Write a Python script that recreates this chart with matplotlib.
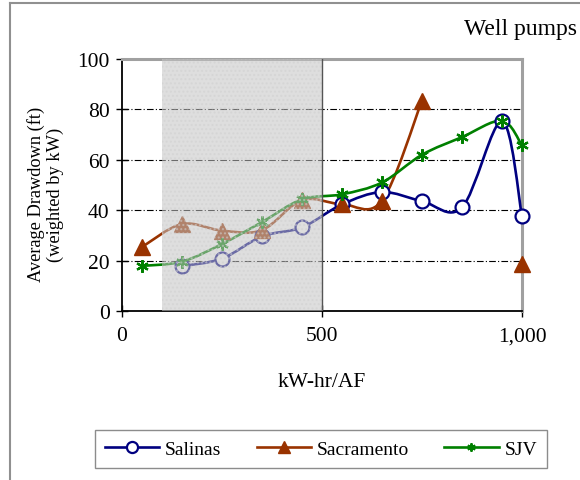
import numpy as np
import matplotlib as mpl
mpl.use('Agg')
import matplotlib.pyplot as plt
from matplotlib.path import Path
from matplotlib.patches import PathPatch
from matplotlib.lines import Line2D

plt.rcParams['font.family'] = ['Liberation Serif', 'DejaVu Serif']

# kW-hr per acre-foot bins
salinas_x = [150, 250, 350, 450, 550, 650, 750, 850, 950, 1000]
salinas_y = [17.8, 20.8, 29.6, 33.2, 42.3, 47.2, 43.6, 41.1, 75.3, 37.6]

sacramento_x = [50, 150, 250, 350, 450, 550, 650, 750]
sacramento_y = [25.4, 34.5, 31.9, 32.1, 44.0, 42.4, 43.8, 83.5]
sacramento_last_x = [1000]
sacramento_last_y = [18.6]

sjv_x = [50, 150, 250, 350, 450, 550, 650, 750, 850, 950, 1000]
sjv_y = [17.9, 19.6, 26.6, 35.3, 44.3, 46.3, 51.0, 62.0, 69.0, 75.5, 65.7]

xticks = [0, 500, 1000]
xticklabels = ['0', '500', '1,000']
yticks = [0, 20, 40, 60, 80, 100]

navy = '#000080'
brown = '#993300'
green = '#008000'
asterisk = (6, 2, 0)


def smooth_path(xs, ys):
    # Bezier curve through the points, like a spreadsheet "smoothed line"
    p = np.column_stack([xs, ys]).astype(float)
    n = len(p)
    verts = [p[0]]
    codes = [Path.MOVETO]
    for i in range(n - 1):
        prev = p[i - 1] if i > 0 else p[i]
        nxt = p[i + 2] if i + 2 < n else p[i + 1]
        c1 = p[i] + (p[i + 1] - prev) / 6.0
        c2 = p[i + 1] - (nxt - p[i]) / 6.0
        verts += [c1, c2, p[i + 1]]
        codes += [Path.CURVE4] * 3
    return Path(verts, codes)


fig = plt.figure(figsize=(5.8, 4.81), dpi=100)
ax = fig.add_axes([122 / 580, 1 - 312 / 481, 400 / 580, 252 / 481])

for xs, ys, col in [(salinas_x, salinas_y, navy),
                    (sacramento_x, sacramento_y, brown),
                    (sjv_x, sjv_y, green)]:
    ax.add_patch(PathPatch(smooth_path(xs, ys), facecolor='none',
                           edgecolor=col, lw=1.9, zorder=3))

ax.plot(salinas_x, salinas_y, ls='none', marker='o', ms=10, mfc='white',
        mec=navy, mew=1.6, zorder=4, clip_on=False)
ax.plot(sacramento_x + sacramento_last_x, sacramento_y + sacramento_last_y,
        ls='none', marker='^', ms=11, color=brown, zorder=4, clip_on=False)
ax.plot(sjv_x, sjv_y, ls='none', marker=asterisk, ms=9, mec=green, mew=1.6,
        zorder=5, clip_on=False)

# shaded band over 100-500 kW-hr/AF
ax.axvspan(100, 500, facecolor='#c4c4c4', alpha=0.55, lw=0, zorder=6,
           hatch='....', edgecolor='#d0d0d0')
ax.axvline(500, color='#555555', lw=1.0, zorder=6)

for y in [20, 40, 60, 80]:
    ax.axhline(y, color='black', lw=0.8, ls=(0, (6, 2, 1, 2)), zorder=1)

ax.set_xlim(0, 1000)
ax.set_ylim(0, 100)
ax.set_xticks(xticks)
ax.set_xticklabels(xticklabels)
ax.set_yticks(yticks)
ax.tick_params(direction='inout', length=8, width=1, labelsize=15.5, pad=5)
ax.tick_params(axis='x', pad=7)
for side in ['left', 'bottom']:
    ax.spines[side].set_color('black')
    ax.spines[side].set_linewidth(1.3)
for side in ['top', 'right']:
    ax.spines[side].set_color('#a0a0a0')
    ax.spines[side].set_linewidth(2.2)

ax.set_xlabel('kW-hr/AF', fontsize=15.5, labelpad=19)
ax.set_ylabel('Average Drawdown (ft)\n(weighted by kW)', fontsize=13.2,
              linespacing=1.15, va='center')
ax.yaxis.set_label_coords(-0.192, 0.465)

fig.text(0.995, 1 - 30 / 481, 'Well pumps', ha='right', va='center',
         fontsize=17)

handles = [
    Line2D([], [], color=navy, lw=1.9, marker='o', ms=8, mfc='white',
           mec=navy, mew=1.6),
    Line2D([], [], color=brown, lw=1.9, marker='^', ms=9),
    Line2D([], [], color=green, lw=1.9, marker=asterisk, ms=6, mew=1.4),
]
leg = fig.legend(handles, ['Salinas', 'Sacramento', 'SJV'], loc='center',
                 bbox_to_anchor=(321 / 580, 1 - 450 / 481), ncol=3,
                 fontsize=14, fancybox=False, handlelength=2.8,
                 columnspacing=1.8, borderpad=0.5, handletextpad=0.3)
leg.get_frame().set_edgecolor('#707070')
leg.get_frame().set_linewidth(1.0)

# chart-area border
fig.add_artist(Line2D([10 / 580, 10 / 580], [0, 1 - 4 / 481],
                      color='#909090', lw=1.5, transform=fig.transFigure))
fig.add_artist(Line2D([10 / 580, 1], [1 - 4 / 481, 1 - 4 / 481],
                      color='#909090', lw=1.5, transform=fig.transFigure))

fig.savefig('out.png', dpi=100)
